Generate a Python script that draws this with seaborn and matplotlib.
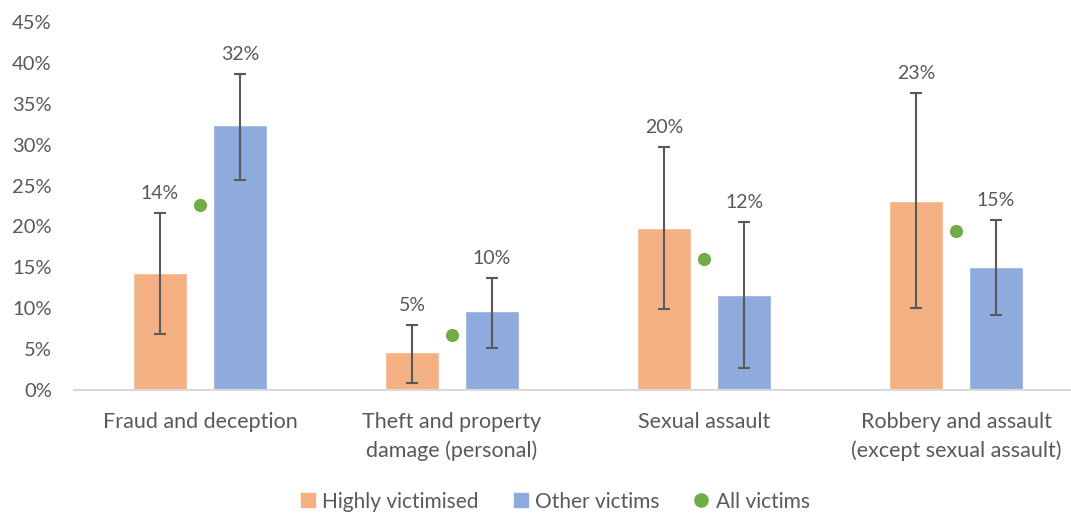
import numpy as np
import pandas as pd
import matplotlib
matplotlib.use("Agg")
import matplotlib.pyplot as plt
from matplotlib.lines import Line2D
import seaborn as sns

# -------------------------------------------------------
# Data (percent of victims)
# -------------------------------------------------------
crimes = ["Fraud and deception",
          "Theft and property\ndamage (personal)",
          "Sexual assault",
          "Robbery and assault\n(except sexual assault)"]
groups = ["Highly victimised", "Other victims"]

highly = [14.3, 4.6, 19.8, 23.1]
highly_lo = [6.8, 0.9, 9.9, 10.0]
highly_hi = [21.7, 8.0, 29.7, 36.3]

other = [32.4, 9.6, 11.6, 15.1]
other_lo = [25.7, 5.1, 2.7, 9.2]
other_hi = [38.6, 13.7, 20.5, 20.8]

all_victims = [22.6, 6.7, 16.0, 19.4]

ORANGE = "#F4B183"
BLUE = "#8FAADC"
GREEN = "#70AD47"
TEXT = "#595959"

df = pd.DataFrame({
    "crime": crimes * 2,
    "group": [groups[0]] * 4 + [groups[1]] * 4,
    "pct": highly + other,
})

sns.set_theme(style="white")
plt.rcParams["font.family"] = ["Lato", "DejaVu Sans"]

fig = plt.figure(figsize=(10.71, 5.15), dpi=100)
ax = fig.add_axes([74 / 1071, 125 / 515, 1008 / 1071, 368 / 515])

sns.barplot(data=df, x="crime", y="pct", hue="group", order=crimes,
            hue_order=groups, palette=[ORANGE, BLUE], saturation=1,
            width=0.636, gap=0.33, legend=False, ax=ax)

# error bars + value labels, placed on the bars seaborn drew
for container, vals, lo, hi in zip(ax.containers,
                                   [highly, other],
                                   [highly_lo, other_lo],
                                   [highly_hi, other_hi]):
    xs = [b.get_x() + b.get_width() / 2 for b in container]
    v = np.array(vals)
    ax.errorbar(xs, v, yerr=[v - np.array(lo), np.array(hi) - v], fmt="none",
                ecolor=TEXT, elinewidth=1.5, capsize=4.5, capthick=1.5, zorder=4)
    for x, val, top in zip(xs, vals, hi):
        ax.annotate(f"{round(val)}%", xy=(x, top), xytext=(0, 14),
                    textcoords="offset points", ha="center", va="center",
                    fontsize=14, color=TEXT)

sns.stripplot(x=crimes, y=all_victims, order=crimes, color=GREEN,
              jitter=False, size=9.5, zorder=5, ax=ax)

ax.set_xlim(-0.5, 3.5)
ax.set_ylim(0, 45)
ax.set_yticks(np.arange(0, 46, 5))
ax.set_yticklabels([f"{t}%" for t in range(0, 46, 5)])
ax.set_xlabel("")
ax.set_ylabel("")
ax.tick_params(axis="y", length=0, pad=16, labelsize=14.5, labelcolor=TEXT)
ax.tick_params(axis="x", length=0, pad=16, labelsize=15.5, labelcolor=TEXT)
for lbl in ax.get_xticklabels():
    lbl.set_linespacing(1.5)
    lbl.set_verticalalignment("top")

for side in ["left", "right", "top"]:
    ax.spines[side].set_visible(False)
ax.spines["bottom"].set_color("#D9D9D9")
ax.spines["bottom"].set_linewidth(1.5)

handles = [
    Line2D([], [], marker="s", linestyle="none", markersize=10,
           markerfacecolor=ORANGE, markeredgecolor=ORANGE, label=groups[0]),
    Line2D([], [], marker="s", linestyle="none", markersize=10,
           markerfacecolor=BLUE, markeredgecolor=BLUE, label=groups[1]),
    Line2D([], [], marker="o", linestyle="none", markersize=9.5,
           markerfacecolor=GREEN, markeredgecolor=GREEN, label="All victims"),
]
leg = fig.legend(handles=handles, loc="lower center", bbox_to_anchor=(0.518, -0.03),
                 ncol=3, frameon=False, fontsize=15, handlelength=0.8,
                 handletextpad=0.3, columnspacing=1.6)
for t in leg.get_texts():
    t.set_color(TEXT)

fig.savefig("out.png", dpi=100)
